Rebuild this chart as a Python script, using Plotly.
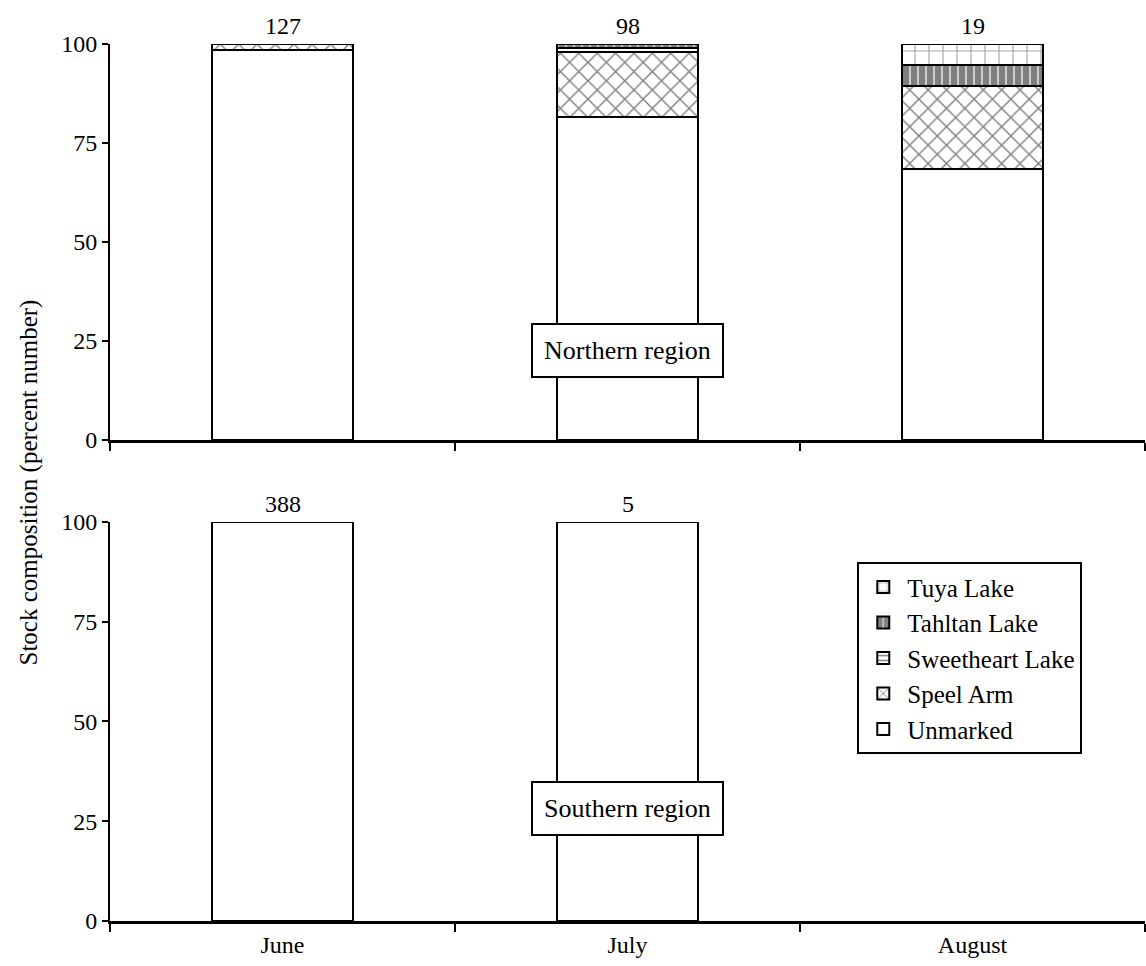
import plotly.graph_objects as go

months = ["June", "July", "August"]
stocks = ["Unmarked", "Speel Arm", "Sweetheart Lake", "Tahltan Lake", "Tuya Lake"]
north_values = {
    "Unmarked": [98.4, 81.6, 68.4],
    "Speel Arm": [1.6, 16.3, 21.1],
    "Sweetheart Lake": [0.0, 1.0, 0.0],
    "Tahltan Lake": [0.0, 1.1, 5.3],
    "Tuya Lake": [0.0, 0.0, 5.2],
}
south_values = {
    "Unmarked": [100.0, 100.0, None],
    "Speel Arm": [0.0, 0.0, None],
    "Sweetheart Lake": [0.0, 0.0, None],
    "Tahltan Lake": [0.0, 0.0, None],
    "Tuya Lake": [0.0, 0.0, None],
}
north_n = ["127", "98", "19"]
south_n = ["388", "5", ""]

patterns = {
    "Unmarked": dict(shape=""),
    "Speel Arm": dict(shape="x", fgcolor="black", bgcolor="white", size=13, solidity=0.2),
    "Sweetheart Lake": dict(shape="-", fgcolor="black", bgcolor="white", size=6, solidity=0.3),
    "Tahltan Lake": dict(shape="|", fgcolor="black", bgcolor="white", size=8, solidity=0.85),
    "Tuya Lake": dict(shape="+", fgcolor="#444", bgcolor="white", size=14, solidity=0.15),
}

FONT = "Liberation Serif"
fig = go.Figure()
for s in stocks:
    fig.add_trace(go.Bar(x=months, y=north_values[s], name=s, xaxis="x", yaxis="y",
                         marker=dict(color="white", line=dict(color="black", width=2),
                                     pattern=patterns[s]),
                         width=0.41, showlegend=True, legendgroup=s))
    fig.add_trace(go.Bar(x=months, y=south_values[s], name=s, xaxis="x2", yaxis="y2",
                         marker=dict(color="white", line=dict(color="black", width=2),
                                     pattern=patterns[s]),
                         width=0.41, showlegend=False, legendgroup=s))

AF = dict(size=24, family=FONT, color="black")
ann = []
for m, t in zip(months, north_n):
    if t:
        ann.append(dict(x=m, y=100, xref="x", yref="y", text=t, showarrow=False,
                        yanchor="bottom", yshift=3, font=AF))
for m, t in zip(months, south_n):
    if t:
        ann.append(dict(x=m, y=100, xref="x2", yref="y2", text=t, showarrow=False,
                        yanchor="bottom", yshift=3, font=AF))
ann.append(dict(x="July", y=22.7, xref="x", yref="y", text="Northern region", showarrow=False,
                bordercolor="black", borderwidth=2, borderpad=11, bgcolor="white",
                font=dict(size=26, family=FONT, color="black")))
ann.append(dict(x="July", y=28.3, xref="x2", yref="y2", text="Southern region", showarrow=False,
                bordercolor="black", borderwidth=2, borderpad=11, bgcolor="white",
                font=dict(size=26, family=FONT, color="black")))
ann.append(dict(x=0, y=0.5, xref="paper", yref="paper", xshift=-98, text="Stock composition (percent number)",
                textangle=-90, showarrow=False, font=dict(size=25, family=FONT, color="black")))

xcommon = dict(type="category", range=[-0.5, 2.5], tickson="boundaries", ticks="outside",
               ticklen=8, tickwidth=2, tickcolor="black", showline=True, linecolor="black",
               linewidth=3, showgrid=False, zeroline=False,
               tickfont=dict(size=24, family=FONT, color="black"))
ycommon = dict(range=[0, 100], tickvals=[0, 25, 50, 75, 100], ticks="outside", ticklen=6,
               tickwidth=2, tickcolor="black", showline=True, linecolor="black", linewidth=2,
               showgrid=False, zeroline=False, tickfont=dict(size=24, family=FONT, color="black"))

fig.update_layout(
    width=1146, height=966, barmode="stack",
    margin=dict(l=110, r=1, t=44, b=45),
    plot_bgcolor="white", paper_bgcolor="white",
    font=dict(family=FONT, color="black"),
    xaxis=dict(xcommon, domain=[0, 1], anchor="y", showticklabels=False),
    yaxis=dict(ycommon, domain=[0.5485, 1], anchor="x"),
    xaxis2=dict(xcommon, domain=[0, 1], anchor="y2"),
    yaxis2=dict(ycommon, domain=[0, 0.455], anchor="x2"),
    legend=dict(x=0.722, y=0.409, xanchor="left", yanchor="top", traceorder="reversed",
                bordercolor="black", borderwidth=2, bgcolor="white",
                font=dict(size=25, family=FONT, color="black"), itemwidth=38, tracegroupgap=0),
    annotations=ann,
)
fig.write_html("out.html")
